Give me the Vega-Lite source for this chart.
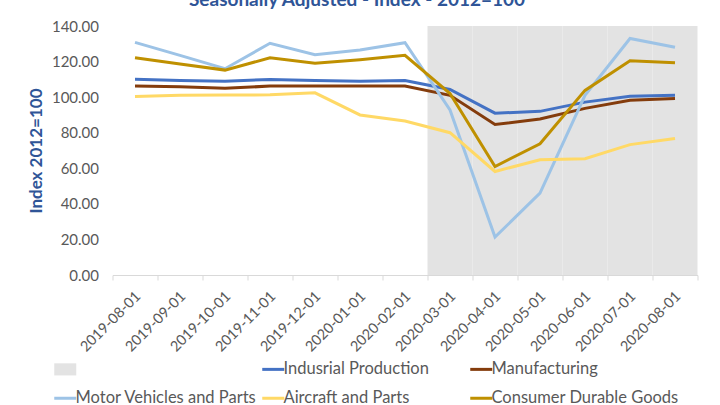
{
  "$schema": "https://vega.github.io/schema/vega-lite/v6.json",
  "width": 585,
  "height": 249,
  "autosize": {"type": "none"},
  "padding": {"left": 112.5, "top": 26, "right": 22.5, "bottom": 130},
  "background": "white",
  "title": {"text": "Seasonally Adjusted - Index - 2012=100", "color": "#2F5597", "fontSize": 19, "font": "Lato", "fontWeight": "bold", "anchor": "middle", "dx": -48, "offset": -6, "baseline": "alphabetic"},
  "config": {"view": {"stroke": null}, "font": "Lato"},
  "resolve": {"scale": {"x": "independent"}, "axis": {"x": "independent"}},
  "datasets": {
    "shade": [
      {"date": "2019-08-01", "shaded": 0}, {"date": "2019-09-01", "shaded": 0}, {"date": "2019-10-01", "shaded": 0},
      {"date": "2019-11-01", "shaded": 0}, {"date": "2019-12-01", "shaded": 0}, {"date": "2020-01-01", "shaded": 0},
      {"date": "2020-02-01", "shaded": 0},
      {"date": "2020-03-01", "shaded": 1}, {"date": "2020-04-01", "shaded": 1}, {"date": "2020-05-01", "shaded": 1},
      {"date": "2020-06-01", "shaded": 1}, {"date": "2020-07-01", "shaded": 1}, {"date": "2020-08-01", "shaded": 1}
    ],
    "series": [
      {"date": "2019-08-01", "series": "Indusrial Production", "value": 110.0},
      {"date": "2019-09-01", "series": "Indusrial Production", "value": 109.4},
      {"date": "2019-10-01", "series": "Indusrial Production", "value": 109.0},
      {"date": "2019-11-01", "series": "Indusrial Production", "value": 109.9},
      {"date": "2019-12-01", "series": "Indusrial Production", "value": 109.4},
      {"date": "2020-01-01", "series": "Indusrial Production", "value": 109.0},
      {"date": "2020-02-01", "series": "Indusrial Production", "value": 109.4},
      {"date": "2020-03-01", "series": "Indusrial Production", "value": 104.3},
      {"date": "2020-04-01", "series": "Indusrial Production", "value": 91.0},
      {"date": "2020-05-01", "series": "Indusrial Production", "value": 92.0},
      {"date": "2020-06-01", "series": "Indusrial Production", "value": 97.2},
      {"date": "2020-07-01", "series": "Indusrial Production", "value": 100.5},
      {"date": "2020-08-01", "series": "Indusrial Production", "value": 101.0},
      {"date": "2019-08-01", "series": "Manufacturing", "value": 106.2},
      {"date": "2019-09-01", "series": "Manufacturing", "value": 105.8},
      {"date": "2019-10-01", "series": "Manufacturing", "value": 105.0},
      {"date": "2019-11-01", "series": "Manufacturing", "value": 106.2},
      {"date": "2019-12-01", "series": "Manufacturing", "value": 106.2},
      {"date": "2020-01-01", "series": "Manufacturing", "value": 106.2},
      {"date": "2020-02-01", "series": "Manufacturing", "value": 106.3},
      {"date": "2020-03-01", "series": "Manufacturing", "value": 101.0},
      {"date": "2020-04-01", "series": "Manufacturing", "value": 84.6},
      {"date": "2020-05-01", "series": "Manufacturing", "value": 87.7},
      {"date": "2020-06-01", "series": "Manufacturing", "value": 93.7},
      {"date": "2020-07-01", "series": "Manufacturing", "value": 98.2},
      {"date": "2020-08-01", "series": "Manufacturing", "value": 99.3},
      {"date": "2019-08-01", "series": "Motor Vehicles and Parts", "value": 130.8},
      {"date": "2019-09-01", "series": "Motor Vehicles and Parts", "value": 123.5},
      {"date": "2019-10-01", "series": "Motor Vehicles and Parts", "value": 116.0},
      {"date": "2019-11-01", "series": "Motor Vehicles and Parts", "value": 130.3},
      {"date": "2019-12-01", "series": "Motor Vehicles and Parts", "value": 123.8},
      {"date": "2020-01-01", "series": "Motor Vehicles and Parts", "value": 126.5},
      {"date": "2020-02-01", "series": "Motor Vehicles and Parts", "value": 130.6},
      {"date": "2020-03-01", "series": "Motor Vehicles and Parts", "value": 92.8},
      {"date": "2020-04-01", "series": "Motor Vehicles and Parts", "value": 21.3},
      {"date": "2020-05-01", "series": "Motor Vehicles and Parts", "value": 46.0},
      {"date": "2020-06-01", "series": "Motor Vehicles and Parts", "value": 101.0},
      {"date": "2020-07-01", "series": "Motor Vehicles and Parts", "value": 133.0},
      {"date": "2020-08-01", "series": "Motor Vehicles and Parts", "value": 128.0},
      {"date": "2019-08-01", "series": "Aircraft and Parts", "value": 100.3},
      {"date": "2019-09-01", "series": "Aircraft and Parts", "value": 101.0},
      {"date": "2019-10-01", "series": "Aircraft and Parts", "value": 101.2},
      {"date": "2019-11-01", "series": "Aircraft and Parts", "value": 101.3},
      {"date": "2019-12-01", "series": "Aircraft and Parts", "value": 102.4},
      {"date": "2020-01-01", "series": "Aircraft and Parts", "value": 90.0},
      {"date": "2020-02-01", "series": "Aircraft and Parts", "value": 86.6},
      {"date": "2020-03-01", "series": "Aircraft and Parts", "value": 80.0},
      {"date": "2020-04-01", "series": "Aircraft and Parts", "value": 58.2},
      {"date": "2020-05-01", "series": "Aircraft and Parts", "value": 64.8},
      {"date": "2020-06-01", "series": "Aircraft and Parts", "value": 65.4},
      {"date": "2020-07-01", "series": "Aircraft and Parts", "value": 73.3},
      {"date": "2020-08-01", "series": "Aircraft and Parts", "value": 76.8},
      {"date": "2019-08-01", "series": "Consumer Durable Goods", "value": 122.2},
      {"date": "2019-09-01", "series": "Consumer Durable Goods", "value": 118.6},
      {"date": "2019-10-01", "series": "Consumer Durable Goods", "value": 115.2},
      {"date": "2019-11-01", "series": "Consumer Durable Goods", "value": 122.1},
      {"date": "2019-12-01", "series": "Consumer Durable Goods", "value": 119.0},
      {"date": "2020-01-01", "series": "Consumer Durable Goods", "value": 121.0},
      {"date": "2020-02-01", "series": "Consumer Durable Goods", "value": 123.5},
      {"date": "2020-03-01", "series": "Consumer Durable Goods", "value": 102.0},
      {"date": "2020-04-01", "series": "Consumer Durable Goods", "value": 61.0},
      {"date": "2020-05-01", "series": "Consumer Durable Goods", "value": 73.8},
      {"date": "2020-06-01", "series": "Consumer Durable Goods", "value": 103.8},
      {"date": "2020-07-01", "series": "Consumer Durable Goods", "value": 120.5},
      {"date": "2020-08-01", "series": "Consumer Durable Goods", "value": 119.3}
    ]
  },
  "layer": [
    {
      "data": {"name": "shade"},
      "mark": {"type": "rect", "color": "#E3E3E3"},
      "encoding": {
        "x": {
          "field": "date", "type": "ordinal",
          "scale": {"type": "band", "paddingInner": 0, "paddingOuter": 0},
          "axis": {"title": null, "labelAngle": -45, "labelAlign": "right", "labelBaseline": "middle", "labelFontSize": 14.5, "labelColor": "#595959", "labelPadding": 14, "labelOffset": 3, "tickBand": "extent", "tickColor": "#D9D9D9", "tickSize": 5, "domainColor": "#D9D9D9", "grid": false}
        },
        "y": {
          "datum": 0, "type": "quantitative",
          "scale": {"domain": [0, 140], "nice": false},
          "axis": {"title": "Index 2012=100", "titleColor": "#2F5597", "titleFontSize": 17, "titleFontWeight": "bold", "titlePadding": 6, "values": [0,20,40,60,80,100,120,140], "format": ".2f", "labelFontSize": 15, "labelColor": "#595959", "labelPadding": 14, "labelOverlap": false, "labelFlush": false, "domain": false, "ticks": false, "gridColor": "#D9D9D9", "gridWidth": 1}
        },
        "y2": {"datum": 140},
        "opacity": {"field": "shaded", "type": "quantitative", "scale": {"domain": [0, 1], "range": [0, 1]}, "legend": null}
      }
    },
    {
      "data": {"name": "series"},
      "mark": {"type": "line", "strokeWidth": 3},
      "encoding": {
        "x": {
          "field": "date", "type": "ordinal",
          "scale": {"type": "point", "padding": 0.5},
          "axis": null
        },
        "y": {
          "field": "value", "type": "quantitative",
          "scale": {"domain": [0, 140], "nice": false},
          "axis": {"title": "Index 2012=100", "titleColor": "#2F5597", "titleFontSize": 17, "titleFontWeight": "bold", "titlePadding": 6, "values": [0,20,40,60,80,100,120,140], "format": ".2f", "labelFontSize": 15, "labelColor": "#595959", "labelPadding": 14, "labelOverlap": false, "labelFlush": false, "domain": false, "ticks": false, "gridColor": "#D9D9D9", "gridWidth": 1}
        },
        "color": {
          "field": "series", "type": "nominal",
          "scale": {"domain": ["", "Indusrial Production", "Manufacturing", "Motor Vehicles and Parts", "Aircraft and Parts", "Consumer Durable Goods"], "range": ["#E3E3E3", "#4472C4", "#843C0C", "#9DC3E6", "#FFD966", "#BF9000"]},
          "legend": {
            "title": null, "orient": "none", "legendX": -55.5, "legendY": 335, "direction": "horizontal", "columns": 3, "gridAlign": "all", "columnPadding": -7, "rowPadding": 12,
            "labelFontSize": 16.5, "labelColor": "#595959", "labelOffset": 2, "symbolSize": 484, "symbolStrokeWidth": 3, "symbolType": "stroke", "labelLimit": 300,
            "encode": {"symbols": {"update": {
              "shape": {"signal": "datum.value === '' ? 'M-1,-0.55H1V0.55H-1Z' : 'stroke'"},
              "fill": {"signal": "datum.value === '' ? '#E3E3E3' : 'transparent'"},
              "strokeWidth": {"signal": "datum.value === '' ? 0 : 3"}
            }}}
          }
        }
      }
    }
  ]
}
